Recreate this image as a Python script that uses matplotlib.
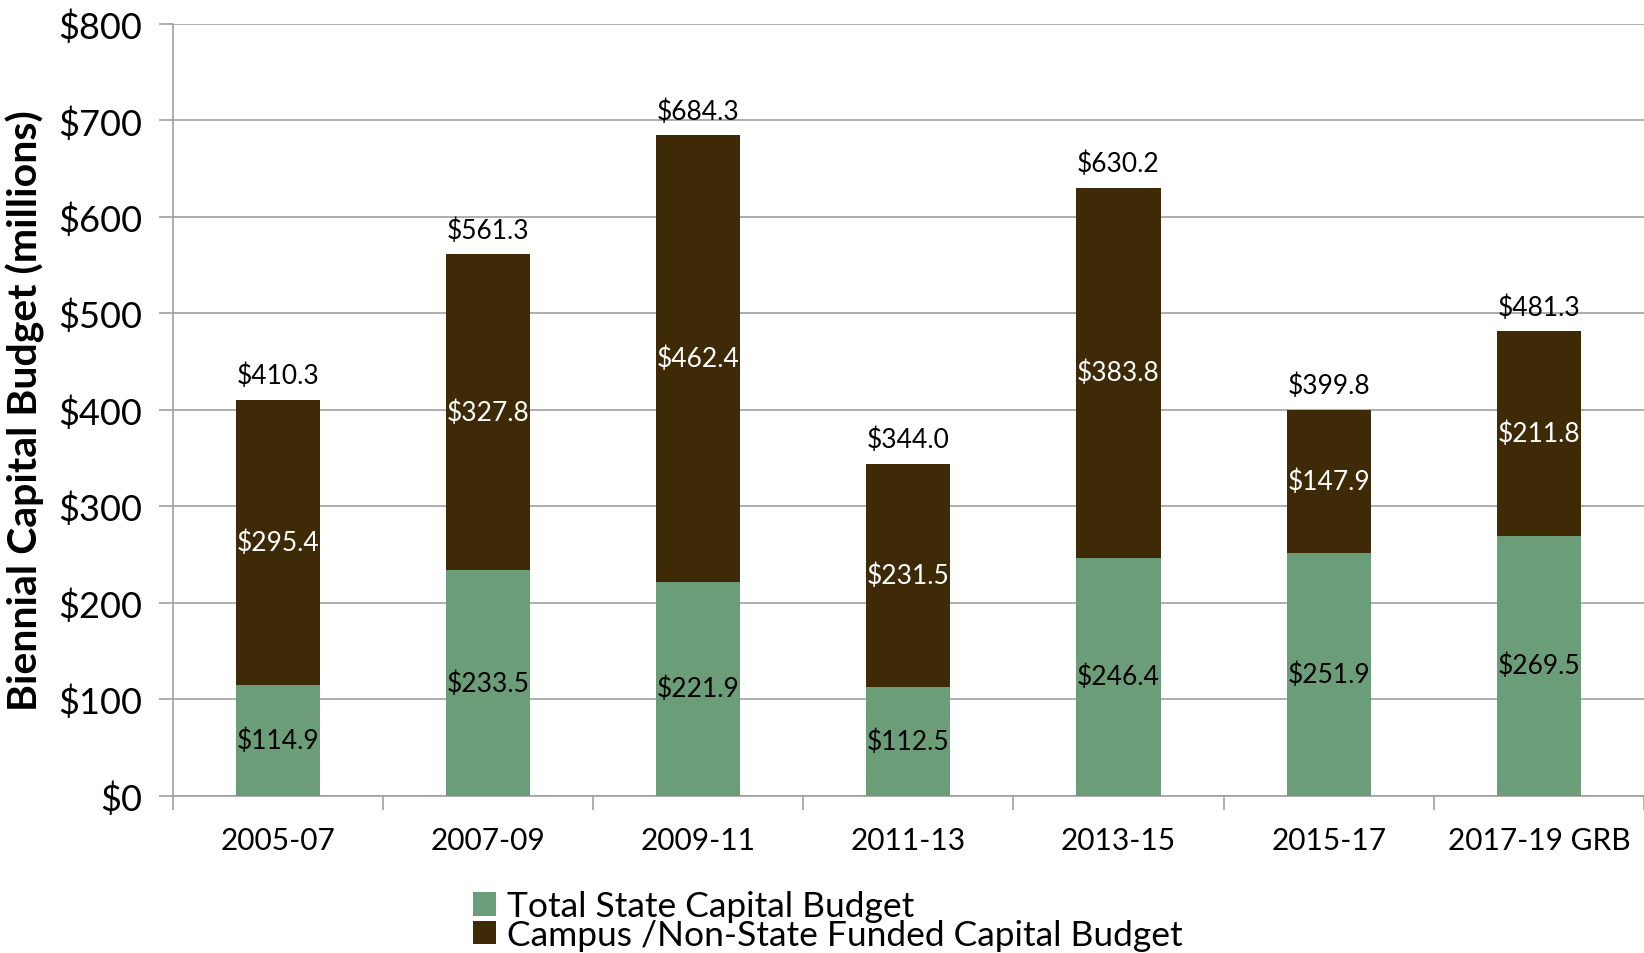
import matplotlib.pyplot as plt
import numpy as np

plt.rcParams['font.family'] = ['Lato', 'DejaVu Sans']

periods = ["2005-07", "2007-09", "2009-11", "2011-13", "2013-15", "2015-17", "2017-19 GRB"]
state = [114.9, 233.5, 221.9, 112.5, 246.4, 251.9, 269.5]
campus = [295.4, 327.8, 462.4, 231.5, 383.8, 147.9, 211.8]
totals = [410.3, 561.3, 684.3, 344.0, 630.2, 399.8, 481.3]

green = '#6B9E78'
brown = '#3F2A08'

fig = plt.figure(figsize=(16.44, 9.54), dpi=100)
ax = fig.add_axes([0.105, 0.165, 0.895, 0.809])

x = np.arange(len(periods))
b1 = ax.bar(x, state, width=0.4, color=green, label='Total State Capital Budget', zorder=3)
b2 = ax.bar(x, campus, width=0.4, bottom=state, color=brown,
            label='Campus /Non-State Funded Capital Budget', zorder=3)

for i in range(len(x)):
    ax.text(x[i], state[i] / 2, "$%.1f" % state[i], ha='center', va='center',
            fontsize=19, color='black', zorder=4)
    ax.text(x[i], state[i] + campus[i] / 2, "$%.1f" % campus[i], ha='center', va='center',
            fontsize=19, color='white', zorder=4)
    ax.text(x[i], totals[i] + 12, "$%.1f" % totals[i], ha='center', va='bottom',
            fontsize=19, color='black', zorder=4)

ax.set_xlim(-0.5, len(x) - 0.5)
ax.set_ylim(0, 800)
ax.set_yticks(np.arange(0, 801, 100))
ax.set_yticklabels(["$%d" % v for v in range(0, 801, 100)], fontsize=26)
ax.yaxis.grid(True, color='#a0a0a0', linewidth=1.2, zorder=0)
ax.tick_params(axis='y', length=10, color='#a0a0a0', width=1.2, pad=12)

ax.set_xticks(x)
ax.set_xticklabels(periods, fontsize=21.5)
ax.set_xticks(np.arange(-0.5, len(x), 1), minor=True)
ax.tick_params(axis='x', which='major', length=0, pad=22)
ax.tick_params(axis='x', which='minor', length=10, color='#a0a0a0', width=1.2)

for s in ['top', 'right']:
    ax.spines[s].set_visible(False)
for s in ['left', 'bottom']:
    ax.spines[s].set_color('#a0a0a0')
    ax.spines[s].set_linewidth(1.2)

ax.set_ylabel("Biennial Capital Budget (millions)", fontsize=29.5, fontweight='bold')
ax.yaxis.set_label_coords(-0.087, 0.5)

# two legend rows, placed one under the other
for h, yy in [(b1, 0.049), (b2, 0.019)]:
    fig.legend(handles=[h], loc='center left', bbox_to_anchor=(0.277, yy),
               frameon=False, fontsize=25.5, handlelength=0.65, handleheight=0.65,
               handletextpad=0.3, borderpad=0)

fig.savefig("out.png", dpi=100)
